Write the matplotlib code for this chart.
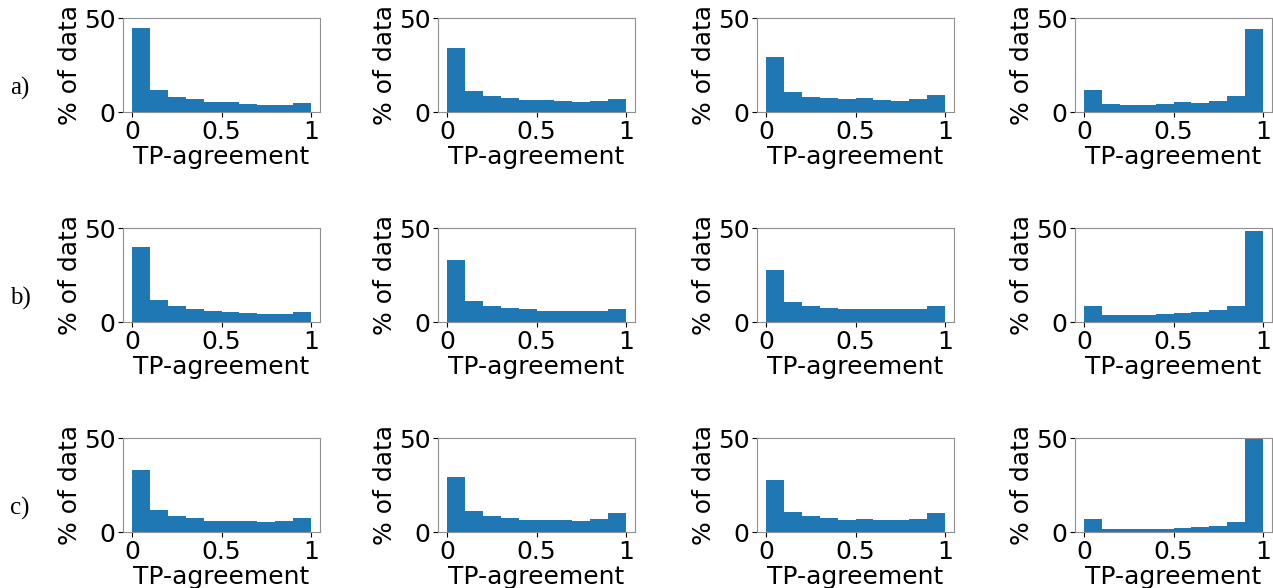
import numpy as np
import matplotlib
matplotlib.use("Agg")
import matplotlib.pyplot as plt

# bin edges for TP-agreement (10 bins over [0, 1])
edges = np.linspace(0, 1, 11)
centers = (edges[:-1] + edges[1:]) / 2

row_labels = ["a)", "b)", "c)"]

# % of data per bin (row, column)
a1 = [44.7, 11.7, 8.0, 6.9, 5.5, 5.5, 4.3, 3.7, 3.7, 4.8]
a2 = [34.0, 11.3, 8.3, 7.6, 6.6, 6.6, 5.9, 5.3, 5.7, 7.1]
a3 = [29.0, 10.6, 8.0, 7.4, 6.9, 7.3, 6.6, 6.0, 6.9, 9.0]
a4 = [11.7, 4.4, 3.7, 3.7, 4.4, 5.3, 4.8, 6.0, 8.7, 44.0]
b1 = [39.9, 11.7, 8.7, 7.1, 6.0, 5.3, 4.8, 4.4, 4.4, 5.3]
b2 = [32.8, 11.3, 8.5, 7.4, 6.9, 6.0, 6.0, 5.7, 6.0, 6.7]
b3 = [27.8, 10.6, 8.7, 7.4, 7.1, 6.7, 6.7, 6.7, 7.1, 8.3]
b4 = [8.7, 3.7, 3.5, 3.5, 4.1, 4.8, 5.3, 6.4, 8.7, 48.2]
c1 = [32.8, 11.7, 8.7, 7.4, 6.0, 6.0, 5.7, 5.1, 5.7, 7.4]
c2 = [29.4, 11.2, 8.3, 7.4, 6.6, 6.6, 6.6, 6.0, 6.9, 9.9]
c3 = [27.8, 10.6, 8.3, 7.4, 6.6, 6.9, 6.6, 6.6, 6.9, 10.3]
c4 = [7.1, 1.8, 1.8, 1.8, 1.8, 2.1, 2.7, 3.2, 5.3, 52.0]

rows = [[a1, a2, a3, a4], [b1, b2, b3, b4], [c1, c2, c3, c4]]

fig = plt.figure(figsize=(12.73, 5.88), dpi=100)

W, H = 1273.0, 588.0
col_left = [123, 438, 757, 1075]
row_top = [18, 228, 438]
ax_w, ax_h = 197, 94

for i, row in enumerate(rows):
    for j, vals in enumerate(row):
        ax = fig.add_axes([col_left[j] / W, 1 - (row_top[i] + ax_h) / H, ax_w / W, ax_h / H])
        ax.hist(centers, bins=edges, weights=vals, color="#1f77b4")
        ax.set_ylim(0, 50)
        ax.set_yticks([0, 50])
        ax.set_xticks([0, 0.5, 1])
        ax.set_xticklabels(["0", "0.5", "1"])
        ax.tick_params(labelsize=18, pad=2)
        ax.set_xlabel("TP-agreement", fontsize=18, labelpad=1)
        ax.set_ylabel("% of data", fontsize=18, labelpad=1)
        for s in ax.spines.values():
            s.set_color("#909090")
    fig.text(10 / W, 1 - (row_top[i] + 70) / H, row_labels[i],
             family="Liberation Serif", fontsize=18, va="center")

fig.savefig("out.png", dpi=100)
